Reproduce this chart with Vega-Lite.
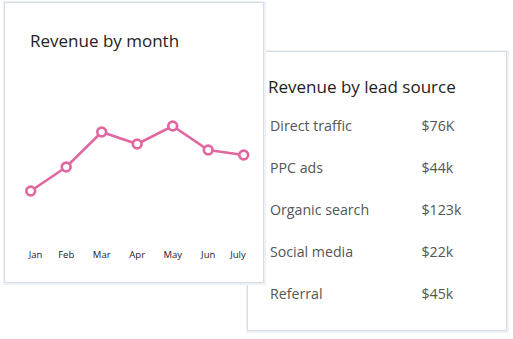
{
  "$schema": "https://vega.github.io/schema/vega-lite/v6.json",
  "width": 513,
  "height": 339,
  "padding": 0,
  "autosize": {"type": "fit", "contains": "padding"},
  "background": "white",
  "config": {"view": {"stroke": null}, "font": "Open Sans"},
  "resolve": {"scale": {"x": "independent", "y": "independent"}},
  "layer": [
    {
      "data": {"values": [{}]},
      "mark": {"type": "rect", "x": 247.5, "x2": 507.5, "y": 51.5, "y2": 331.5, "fill": "white", "stroke": "#eef1f5", "strokeWidth": 3},
      "encoding": {}
    },
    {
      "data": {"values": [{}]},
      "mark": {"type": "rect", "x": 247.5, "x2": 506.5, "y": 51.5, "y2": 330.5, "fill": "white", "stroke": "#d5dce5", "strokeWidth": 1},
      "encoding": {}
    },
    {
      "data": {"values": [{}]},
      "mark": {"type": "rect", "x": 4.5, "x2": 264.5, "y": 2.5, "y2": 283.5, "fill": "white", "stroke": "#eef1f5", "strokeWidth": 3},
      "encoding": {}
    },
    {
      "data": {"values": [{}]},
      "mark": {"type": "rect", "x": 4.5, "x2": 263.5, "y": 2.5, "y2": 282.5, "fill": "white", "stroke": "#d5dce5", "strokeWidth": 1},
      "encoding": {}
    },
    {
      "data": {"values": [{"title": "Revenue by month"}]},
      "mark": {"type": "text", "x": 30, "y": 42, "align": "left", "baseline": "middle", "fontSize": 17, "color": "#222222", "font": "Open Sans"},
      "encoding": {"text": {"field": "title"}}
    },
    {
      "data": {"values": [{"title": "Revenue by lead source"}]},
      "mark": {"type": "text", "x": 268, "y": 88, "align": "left", "baseline": "middle", "fontSize": 17, "color": "#222222", "font": "Open Sans"},
      "encoding": {"text": {"field": "title"}}
    },
    {
      "data": {"name": "months", "values": [
        {"month": "Jan", "revenue": 59},
        {"month": "Feb", "revenue": 83},
        {"month": "Mar", "revenue": 118},
        {"month": "Apr", "revenue": 106},
        {"month": "May", "revenue": 124},
        {"month": "Jun", "revenue": 100},
        {"month": "July", "revenue": 95}
      ]},
      "encoding": {
        "x": {"field": "month", "type": "ordinal", "sort": null,
          "scale": {"type": "point", "range": [30.7, 243.7], "padding": 0},
          "axis": null},
        "y": {"field": "revenue", "type": "quantitative",
          "scale": {"domain": [0, 150], "range": [250, 100], "zero": false, "nice": false},
          "axis": null}
      },
      "layer": [
        {"mark": {"type": "line", "color": "#e0679f", "strokeWidth": 2.6}},
        {"mark": {"type": "point", "shape": "circle", "size": 78, "filled": true, "fill": "white", "stroke": "#e0679f", "strokeWidth": 2.6, "opacity": 1}},
        {
          "mark": {"type": "text", "baseline": "middle", "fontSize": 9.5, "color": "#222222", "font": "Open Sans",
            "align": {"expr": "datum.month === 'Jan' ? 'left' : (datum.month === 'July' ? 'right' : 'center')"},
            "dx": {"expr": "datum.month === 'Jan' ? -2 : (datum.month === 'July' ? 2 : 0)"}},
          "encoding": {
            "y": {"datum": -4.5, "type": "quantitative"},
            "text": {"field": "month"}
          }
        }
      ]
    },
    {
      "data": {"values": [
        {"source": "Direct traffic", "revenue": "$76K"},
        {"source": "PPC ads", "revenue": "$44k"},
        {"source": "Organic search", "revenue": "$123k"},
        {"source": "Social media", "revenue": "$22k"},
        {"source": "Referral", "revenue": "$45k"}
      ]},
      "transform": [{"fold": ["source", "revenue"], "as": ["column", "cell"]}],
      "mark": {"type": "text", "align": "left", "baseline": "middle", "fontSize": 14.2, "color": "#555555", "font": "Open Sans"},
      "encoding": {
        "x": {"field": "column", "type": "nominal", "sort": ["source", "revenue"], "scale": {"type": "point", "range": [270, 421.5], "padding": 0}, "axis": null},
        "y": {"field": "source", "type": "nominal", "sort": null, "scale": {"type": "point", "range": [127.3, 295], "padding": 0}, "axis": null},
        "text": {"field": "cell"}
      }
    }
  ]
}
